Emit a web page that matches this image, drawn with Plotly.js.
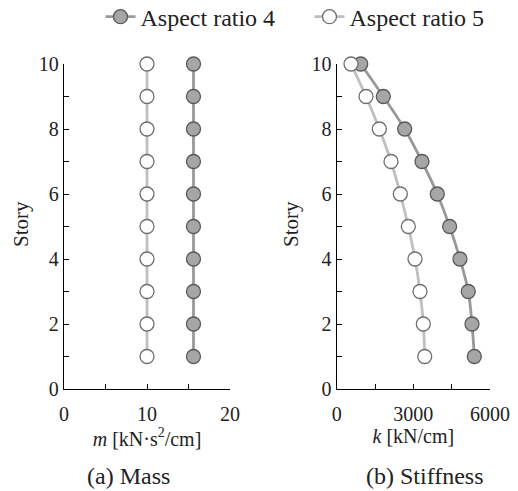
<!DOCTYPE html>
<html><head><meta charset="utf-8">
<script src="https://cdn.plot.ly/plotly-3.0.1.min.js"></script>
<style>html,body{margin:0;padding:0;background:#fff;font-family:"Liberation Serif",serif}
#c{width:518px;height:491px;position:relative;z-index:1}
.fp{position:absolute;left:200px;top:200px;z-index:0;font-family:"Liberation Serif",serif;font-size:2px;color:#fff}</style>
</head><body>
<div class="fp">.<i>.</i></div>
<div id="c"></div>
<script>
const story = [1,2,3,4,5,6,7,8,9,10];
const massAR4 = [15.6,15.6,15.6,15.6,15.6,15.6,15.6,15.6,15.6,15.6];
const massAR5 = [10,10,10,10,10,10,10,10,10,10];
const stiffAR4 = [5385,5295,5150,4825,4420,3937,3337,2660,1825,940];
const stiffAR5 = [3445,3390,3260,3065,2803,2490,2125,1668,1147,560];
const seriesNames = ["Aspect ratio 4","Aspect ratio 5"];

const FONT = "Liberation Serif, Times New Roman, serif";
const mk4 = {symbol:"circle", size:14, color:"#a6a6a6", line:{color:"#595959", width:1.3}};
const mk5 = {symbol:"circle", size:14, color:"#ffffff", line:{color:"#6e6e6e", width:1.3}};
const ln4 = {color:"#999999", width:2.8, shape:"spline", smoothing:1};
const ln5 = {color:"#bfbfbf", width:2.8, shape:"spline", smoothing:1};

const traces = [
  {x:massAR4, y:story, xaxis:"x", yaxis:"y", mode:"lines+markers", name:seriesNames[0], marker:mk4, line:ln4, legendgroup:"a4", cliponaxis:false},
  {x:massAR5, y:story, xaxis:"x", yaxis:"y", mode:"lines+markers", name:seriesNames[1], marker:mk5, line:ln5, legendgroup:"a5", cliponaxis:false},
  {x:stiffAR4, y:story, xaxis:"x2", yaxis:"y2", mode:"lines+markers", name:seriesNames[0], marker:mk4, line:ln4, legendgroup:"a4", showlegend:false, cliponaxis:false},
  {x:stiffAR5, y:story, xaxis:"x2", yaxis:"y2", mode:"lines+markers", name:seriesNames[1], marker:mk5, line:ln5, legendgroup:"a5", showlegend:false, cliponaxis:false}
];

const W = 518, H = 491;
const yTop = 1 - 64/H, yBot = 1 - 389/H;
function ax(extra){
  return Object.assign({showline:true, linecolor:"#000", linewidth:1.3, ticks:"inside", ticklen:5, tickcolor:"#000", tickwidth:1.2, showgrid:false, zeroline:false, tickfont:{family:FONT, size:20, color:"#222"}}, extra);
}
const tFont = {family:FONT, size:20, color:"#222"};
const capFont = {family:FONT, size:24, color:"#222"};
const layout = {
  width:W, height:H, margin:{l:0,r:0,t:0,b:0, autoexpand:false},
  paper_bgcolor:"#fff", plot_bgcolor:"#fff",
  font:{family:FONT, color:"#222"},
  showlegend:true,
  legend:{orientation:"h", x:0.194, y:1.011, xanchor:"left", yanchor:"top", entrywidth:164, font:{family:FONT, size:24, color:"#222"}},
  xaxis: ax({domain:[64/W, 230/W], range:[0,20], dtick:10, tick0:0, anchor:"y",
    minor:{dtick:5, ticks:"inside", ticklen:5, tickcolor:"#000"}, ticklabelstandoff:7,
    title:{text:"<i>m</i> [kN·s<sup>2</sup>/cm]", font:tFont, standoff:0}}),
  yaxis: ax({domain:[yBot, yTop], range:[0,10], dtick:2, tick0:0, anchor:"x",
    minor:{dtick:1, ticks:"inside", ticklen:5, tickcolor:"#000"}}),
  xaxis2: ax({domain:[336.7/W, 490/W], range:[0,6000], dtick:3000, tick0:0, anchor:"y2",
    minor:{dtick:1500, ticks:"inside", ticklen:5, tickcolor:"#000"}, ticklabelstandoff:7,
    title:{text:"<i>k</i> [kN/cm]", font:tFont, standoff:0}}),
  yaxis2: ax({domain:[yBot, yTop], range:[0,10], dtick:2, tick0:0, anchor:"x2",
    minor:{dtick:1, ticks:"inside", ticklen:5, tickcolor:"#000"}}),
  annotations:[
    {text:"Story", xref:"paper", yref:"paper", x:21/W, y:1-224/H, xanchor:"center", yanchor:"middle", textangle:-90, showarrow:false, font:{family:FONT, size:21, color:"#222"}},
    {text:"Story", xref:"paper", yref:"paper", x:291/W, y:1-224/H, xanchor:"center", yanchor:"middle", textangle:-90, showarrow:false, font:{family:FONT, size:21, color:"#222"}},
    {text:"(a) Mass", xref:"paper", yref:"paper", x:128/W, y:1-476/H, xanchor:"center", yanchor:"middle", showarrow:false, font:capFont},
    {text:"(b) Stiffness", xref:"paper", yref:"paper", x:425/W, y:1-476/H, xanchor:"center", yanchor:"middle", showarrow:false, font:capFont}
  ]
};
const cfg = {displayModeBar:false};
function draw(){ return Plotly.react("c", traces, layout, cfg); }
draw();
setTimeout(draw, 150);
setTimeout(draw, 600);
if (document.fonts && document.fonts.ready) { document.fonts.ready.then(draw); }
</script></body></html>
